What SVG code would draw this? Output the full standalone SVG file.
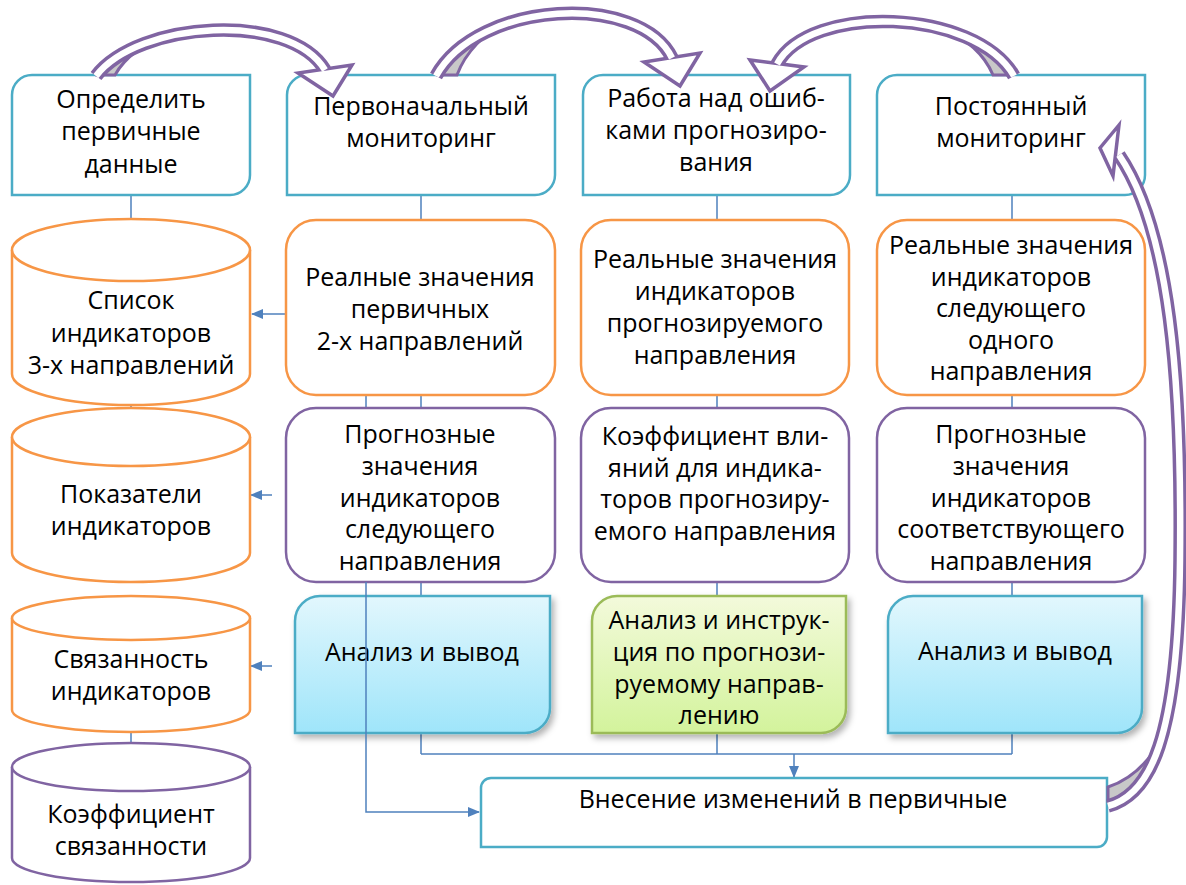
<svg xmlns="http://www.w3.org/2000/svg" width="1186" height="885" viewBox="0 0 1186 885">
<defs>
<style>
.t{font-family:"Open Sans","Liberation Sans",sans-serif;font-size:25px;fill:#000;text-anchor:middle}
.teal{fill:#fff;stroke:#4BACC6;stroke-width:2.5}
.org{fill:#fff;stroke:#F79646;stroke-width:2.5}
.pur{fill:#fff;stroke:#8064A2;stroke-width:2.5}
.cn{fill:none;stroke:#4F81BD;stroke-width:1.5}
.bo{fill:none;stroke:#8064A2;stroke-width:13.5;stroke-linecap:butt}
.bi{fill:none;stroke:#fff;stroke-width:6.5;stroke-linecap:butt}
.hd{fill:#fff;stroke:#8064A2;stroke-width:3.5;stroke-linejoin:miter}
.gw{fill:#C8C8C8;stroke:#8064A2;stroke-width:3}
</style>
<linearGradient id="gb" x1="0" y1="0" x2="0" y2="1">
<stop offset="0" stop-color="#E2F7FD"/><stop offset="1" stop-color="#9FE5FA"/>
</linearGradient>
<linearGradient id="gg" x1="0" y1="0" x2="0" y2="1">
<stop offset="0" stop-color="#F3FADB"/><stop offset="1" stop-color="#D3F39C"/>
</linearGradient>
<filter id="sh" x="-10%" y="-10%" width="125%" height="130%">
<feDropShadow dx="3" dy="4" stdDeviation="3" flood-color="#000" flood-opacity="0.3"/>
</filter>
<marker id="ar" markerWidth="12" markerHeight="10" refX="11" refY="5" orient="auto" markerUnits="userSpaceOnUse">
<path d="M0 0 L12 5 L0 10 Z" fill="#4F81BD"/>
</marker>
<clipPath id="c1"><rect x="0" y="200" width="260" height="176"/></clipPath>
<clipPath id="c2"><rect x="280" y="400" width="290" height="171"/></clipPath>
<clipPath id="c3"><rect x="870" y="400" width="290" height="171"/></clipPath>
<clipPath id="c4"><rect x="590" y="590" width="260" height="134"/></clipPath>
</defs>
<rect width="1186" height="885" fill="#fff"/>

<g id="connectors">
<path class="cn" d="M131 195 V219 M131 405 V408 M131 732 V743"/>
<path class="cn" d="M421 195 V220 M421 395 V408 M421 582 V596 M421 733 V754"/>
<path class="cn" d="M717 195 V220 M717 395 V408 M717 582 V596 M717 733 V754"/>
<path class="cn" d="M1012 195 V220 M1012 395 V408 M1012 582 V596 M1012 733 V754"/>
<path class="cn" d="M366 395 V408"/>
<path class="cn" d="M421 754 H1012"/>
<path class="cn" d="M794 754 V777" marker-end="url(#ar)"/>
<path class="cn" d="M286 314 H252" marker-end="url(#ar)"/>
<path class="cn" d="M272 495 H251" marker-end="url(#ar)"/>
<path class="cn" d="M272 666 H251" marker-end="url(#ar)"/>
</g>

<g id="n-top1"><path class="teal" d="M32 75 H250 V175 A20 20 0 0 1 230 195 H12 V95 A20 20 0 0 1 32 75 Z"/>
<text class="t" x="131" y="108">Определить</text><text class="t" x="131" y="140">первичные</text><text class="t" x="131" y="173">данные</text></g>
<g id="n-top2"><path class="teal" d="M307 75 H555 V175 A20 20 0 0 1 535 195 H287 V95 A20 20 0 0 1 307 75 Z"/>
<text class="t" x="421" y="115">Первоначальный</text><text class="t" x="421" y="147">мониторинг</text></g>
<g id="n-top3"><path class="teal" d="M603 75 H850 V175 A20 20 0 0 1 830 195 H583 V95 A20 20 0 0 1 603 75 Z"/>
<text class="t" x="716" y="107">Работа над ошиб-</text><text class="t" x="716" y="139">ками прогнозиро-</text><text class="t" x="716" y="171">вания</text></g>
<g id="n-top4"><path class="teal" d="M897 75 H1145 V175 A20 20 0 0 1 1125 195 H877 V95 A20 20 0 0 1 897 75 Z"/>
<text class="t" x="1011" y="115">Постоянный</text><text class="t" x="1011" y="147">мониторинг</text></g>

<g id="n-cyl1"><path class="org" d="M12 250 A119 31 0 0 1 250 250 V374 A119 31 0 0 1 12 374 Z"/><path class="org" fill="none" d="M12 250 A119 31 0 0 0 250 250"/>
<g clip-path="url(#c1)"><text class="t" x="131" y="309">Список</text><text class="t" x="131" y="342">индикаторов</text><text class="t" x="131" y="374">3-х направлений</text></g></g>
<g id="n-cyl2"><path class="org" d="M12 437 A119 29 0 0 1 250 437 V553 A119 29 0 0 1 12 553 Z"/><path class="org" fill="none" d="M12 437 A119 29 0 0 0 250 437"/>
<text class="t" x="131" y="503">Показатели</text><text class="t" x="131" y="535">индикаторов</text></g>
<g id="n-cyl3"><path class="org" d="M12 618 A119 22 0 0 1 250 618 V710 A119 22 0 0 1 12 710 Z"/><path class="org" fill="none" d="M12 618 A119 22 0 0 0 250 618"/>
<text class="t" x="131" y="668">Связанность</text><text class="t" x="131" y="700">индикаторов</text></g>
<g id="n-cyl4"><path class="pur" d="M12 767 A119 24 0 0 1 250 767 V858 A119 24 0 0 1 12 858 Z"/><path class="pur" fill="none" d="M12 767 A119 24 0 0 0 250 767"/>
<text class="t" x="131" y="823">Коэффициент</text><text class="t" x="131" y="855">связанности</text></g>

<g id="n-real2"><rect class="org" x="286" y="220" width="269" height="175" rx="30"/>
<text class="t" x="420" y="286">Реалные значения</text><text class="t" x="420" y="318">первичных</text><text class="t" x="420" y="350">2-х направлений</text></g>
<g id="n-real3"><rect class="org" x="581" y="220" width="268" height="175" rx="30"/>
<text class="t" x="715" y="268">Реальные значения</text><text class="t" x="715" y="300">индикаторов</text><text class="t" x="715" y="332">прогнозируемого</text><text class="t" x="715" y="364">направления</text></g>
<g id="n-real4"><rect class="org" x="877" y="220" width="268" height="175" rx="30"/>
<text class="t" x="1011" y="254">Реальные значения</text><text class="t" x="1011" y="286">индикаторов</text><text class="t" x="1011" y="317">следующего</text><text class="t" x="1011" y="349">одного</text><text class="t" x="1011" y="380">направления</text></g>

<g id="n-fc2"><rect class="pur" x="286" y="408" width="269" height="174" rx="30"/>
<g clip-path="url(#c2)"><text class="t" x="420" y="443">Прогнозные</text><text class="t" x="420" y="475">значения</text><text class="t" x="420" y="507">индикаторов</text><text class="t" x="420" y="538">следующего</text><text class="t" x="420" y="570">направления</text></g></g>
<g id="n-fc3"><rect class="pur" x="581" y="408" width="268" height="174" rx="30"/>
<text class="t" x="715" y="445">Коэффициент вли-</text><text class="t" x="715" y="477">яний для индика-</text><text class="t" x="715" y="508">торов прогнозиру-</text><text class="t" x="715" y="540">емого направления</text></g>
<g id="n-fc4"><rect class="pur" x="877" y="408" width="268" height="174" rx="30"/>
<g clip-path="url(#c3)"><text class="t" x="1011" y="443">Прогнозные</text><text class="t" x="1011" y="475">значения</text><text class="t" x="1011" y="507">индикаторов</text><text class="t" x="1011" y="538">соответствующего</text><text class="t" x="1011" y="570">направления</text></g></g>

<g id="n-an2"><path d="M320 596 H550 V708 A25 25 0 0 1 525 733 H295 V621 A25 25 0 0 1 320 596 Z" fill="url(#gb)" stroke="#4BACC6" stroke-width="2.5" filter="url(#sh)"/>
<text class="t" x="422" y="661">Анализ и вывод</text></g>
<g id="n-an3"><path d="M617 596 H846 V708 A25 25 0 0 1 821 733 H592 V621 A25 25 0 0 1 617 596 Z" fill="url(#gg)" stroke="#9BBB59" stroke-width="2.5" filter="url(#sh)"/>
<g clip-path="url(#c4)"><text class="t" x="719" y="629">Анализ и инструк-</text><text class="t" x="719" y="661">ция по прогнози-</text><text class="t" x="719" y="693">руемому направ-</text><text class="t" x="719" y="724">лению</text></g></g>
<g id="n-an4"><path d="M913 596 H1142 V708 A25 25 0 0 1 1117 733 H888 V621 A25 25 0 0 1 913 596 Z" fill="url(#gb)" stroke="#4BACC6" stroke-width="2.5" filter="url(#sh)"/>
<text class="t" x="1015" y="660">Анализ и вывод</text></g>

<g id="connectors-over">
<path class="cn" d="M366 582 V812 H479" marker-end="url(#ar)"/>
</g>

<g id="n-change"><path class="teal" d="M491 778 H1107 V837 A10 10 0 0 1 1097 847 H481 V788 A10 10 0 0 1 491 778 Z"/>
<text class="t" x="793" y="808">Внесение изменений в первичные</text></g>

<g id="curved-arrows">
<path class="gw" d="M98 75 L115 75 Q130 48 172 33 Q122 42 98 75 Z"/>
<path class="bo" d="M96 76 C138 21 290 11 325 70"/>
<polygon class="hd" points="298,73 333,96 352,65"/>
<path class="bi" d="M96 76 C138 21 290 11 325 70"/>

<path class="gw" d="M439 75 L457 75 Q470 40 514 17 Q462 33 439 75 Z"/>
<path class="bo" d="M436 76 C478 0 640 -8 672 58"/>
<polygon class="hd" points="644,62 680,86 700,53"/>
<path class="bi" d="M436 76 C478 0 640 -8 672 58"/>

<path class="gw" d="M1010 75 L993 75 Q980 44 940 27 Q990 36 1010 75 Z"/>
<path class="bo" d="M1014 76 C975 8 810 3 777 64"/>
<polygon class="hd" points="750,60 770,91 804,67"/>
<path class="bi" d="M1014 76 C975 8 810 3 777 64"/>

<path class="gw" d="M1108 787 L1108 801 Q1142 792 1164 735 Q1142 776 1108 787 Z"/>
<path class="bo" d="M1108 806 C1150 795 1178 740 1180 560 C1182 380 1170 230 1119 155"/>
<polygon class="hd" points="1119,125 1100,148 1113,176"/>
<path class="bi" d="M1108 806 C1150 795 1178 740 1180 560 C1182 380 1170 230 1119 155"/>
</g>
</svg>
